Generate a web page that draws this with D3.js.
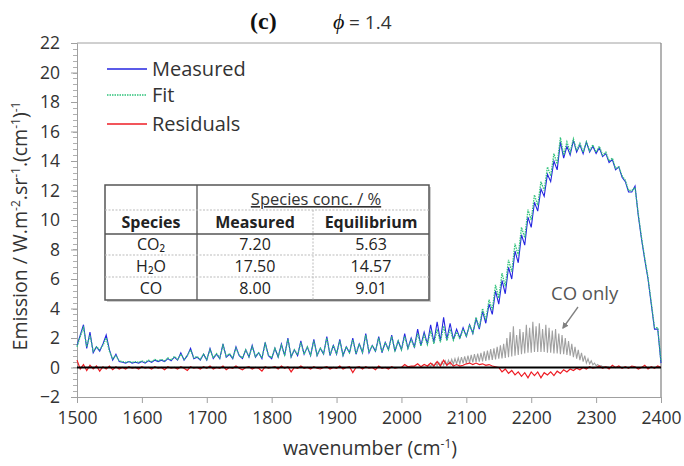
<!DOCTYPE html>
<html>
<head>
<meta charset="utf-8">
<script src="https://cdn.jsdelivr.net/npm/d3@7/dist/d3.min.js"></script>
<style>
  body { margin: 0; background: #fff; }
  svg { display: block; font-family: "Open Sans", sans-serif; }
</style>
</head>
<body>
<div id="chart"></div>
<script>
var startWn = 1500, stepWn = 5;

var measured = [
  1.5, 2.2, 2.9, 1.3, 2.4, 1.0, 1.4, 1.1, 1.6, 2.2,
  1.2, 0.5, 0.9, 0.4, 0.35, 0.3, 0.4, 0.3, 0.35, 0.3,
  0.4, 0.3, 0.45, 0.35, 0.5, 0.4, 0.5, 0.4, 0.6, 0.45,
  0.7, 0.5, 1.0, 0.5, 0.8, 1.3, 0.6, 0.7, 0.5, 0.9,
  0.5, 1.3, 0.6, 0.9, 0.6, 1.6, 0.7, 0.9, 0.6, 1.4,
  0.8, 0.6, 1.2, 0.7, 1.5, 0.7, 1.0, 0.6, 1.7, 0.8,
  0.6, 1.3, 0.7, 1.6, 0.8, 2.0, 0.7, 1.2, 0.8, 1.8,
  0.9, 1.4, 0.8, 1.9, 0.8, 1.3, 0.9, 2.1, 0.8, 1.5,
  0.9, 1.9, 0.8, 1.4, 1.0, 2.0, 0.9, 1.6, 1.0, 2.3,
  1.0, 1.5, 1.1, 2.1, 1.0, 1.7, 1.2, 2.2, 1.1, 1.8,
  1.2, 2.3, 1.3, 2.0, 1.4, 2.6, 1.5, 2.4, 1.6, 2.9,
  1.7, 3.1, 1.8, 3.4, 1.9, 3.0, 1.9, 2.6, 2.0, 2.7,
  2.1, 2.9, 2.3, 3.3, 2.6, 3.8, 3.0, 4.3, 3.6, 5.2,
  4.3, 5.9, 5.0, 6.8, 6.0, 7.9, 7.1, 9.0, 8.3, 10.2,
  9.5, 11.2, 10.6, 12.1, 11.6, 13.1, 12.6, 14.0, 13.4, 15.3,
  14.2, 15.0, 14.4, 15.4, 14.6, 15.1, 14.5, 15.3, 14.6, 15.0,
  14.5, 14.9, 14.3, 14.5, 13.9, 14.1, 13.4, 13.6, 12.9, 12.6,
  11.9, 11.9, 12.3, 10.3, 8.7, 7.3, 6.0, 4.3, 2.6, 2.6,
  0.3
];

var fit = [
  1.4, 2.1, 2.7, 1.4, 2.2, 1.1, 1.4, 1.2, 1.5, 2.0,
  1.1, 0.6, 0.8, 0.45, 0.4, 0.35, 0.4, 0.35, 0.4, 0.35,
  0.45, 0.35, 0.5, 0.4, 0.55, 0.45, 0.55, 0.45, 0.65, 0.5,
  0.75, 0.55, 0.9, 0.55, 0.8, 1.2, 0.65, 0.75, 0.55, 0.9,
  0.55, 1.2, 0.65, 0.95, 0.65, 1.5, 0.75, 0.95, 0.65, 1.3,
  0.85, 0.65, 1.2, 0.75, 1.4, 0.75, 1.0, 0.65, 1.6, 0.85,
  0.65, 1.3, 0.75, 1.5, 0.85, 1.9, 0.75, 1.2, 0.85, 1.7,
  0.9, 1.4, 0.85, 1.8, 0.85, 1.3, 0.95, 2.0, 0.85, 1.5,
  0.95, 1.8, 0.85, 1.4, 1.0, 1.9, 0.95, 1.6, 1.05, 2.2,
  1.05, 1.5, 1.1, 2.0, 1.05, 1.7, 1.2, 2.1, 1.15, 1.8,
  1.2, 2.1, 1.3, 1.9, 1.35, 2.3, 1.45, 2.2, 1.55, 2.5,
  1.6, 2.6, 1.7, 2.8, 1.8, 2.6, 1.85, 2.4, 1.95, 2.6,
  2.1, 2.9, 2.35, 3.4, 2.7, 4.0, 3.2, 4.6, 3.9, 5.6,
  4.7, 6.4, 5.5, 7.3, 6.5, 8.4, 7.6, 9.5, 8.8, 10.7,
  10.0, 11.7, 11.0, 12.6, 12.0, 13.6, 13.0, 14.5, 13.8, 15.6,
  14.4, 15.3, 14.6, 15.5, 14.7, 15.2, 14.6, 15.3, 14.7, 15.1,
  14.6, 15.0, 14.4, 14.6, 14.0, 14.2, 13.5, 13.6, 13.0, 12.7,
  12.0, 12.0, 12.2, 10.4, 8.8, 7.4, 6.1, 4.4, 2.7, 2.7,
  0.4
];

var residuals = [
  0.5, -0.1, 0.2, -0.2, 0.15, -0.1, 0.1, -0.25, 0.05, -0.1,
  0.1, -0.15, 0.05, -0.1, 0.0, -0.1, 0.05, -0.05, 0.0, -0.1,
  0.05, -0.05, 0.0, -0.1, 0.05, -0.05, 0.0, -0.15, 0.05, -0.05,
  0.0, -0.1, 0.05, -0.05, -0.2, 0.05, -0.05, 0.0, -0.1, 0.05,
  -0.05, 0.1, -0.1, 0.0, -0.05, 0.1, -0.15, 0.0, -0.05, 0.1,
  -0.05, -0.15, 0.0, 0.05, -0.1, 0.0, -0.05, -0.25, 0.05, -0.05,
  0.0, 0.05, -0.1, 0.1, -0.05, 0.05, -0.3, 0.0, -0.05, 0.1,
  -0.05, 0.0, -0.1, 0.05, -0.05, -0.1, 0.0, 0.05, -0.1, 0.0,
  -0.05, 0.1, -0.1, 0.0, 0.05, -0.35, 0.0, 0.05, -0.1, 0.05,
  -0.05, 0.0, -0.15, 0.1, -0.05, 0.0, -0.1, 0.05, -0.05, 0.0,
  0.0, 0.2, 0.05, 0.1, 0.1, 0.25, 0.05, 0.2, 0.1, 0.3,
  0.1, 0.4, 0.1, 0.5, 0.15, 0.35, 0.1, 0.2, 0.1, 0.15,
  0.25, 0.3, 0.2, 0.3, 0.2, 0.25, 0.15, 0.2, 0.1, 0.05,
  0.0, -0.3, -0.1, -0.4, -0.2, -0.5, -0.3, -0.6, -0.35, -0.7,
  -0.3, -0.55, -0.3, -0.7, -0.35, -0.5, -0.3, -0.55, -0.25, -0.4,
  -0.15, -0.3, -0.1, -0.2, -0.05, -0.15, 0.0, -0.1, 0.05, -0.05,
  0.0, 0.1, -0.05, 0.05, -0.1, 0.15, 0.0, 0.1, -0.05, 0.05,
  -0.05, 0.1, 0.05, -0.1, 0.0, 0.15, -0.1, 0.05, -0.05, 0.1,
  0.0
];

// CO only, every 2.5 cm-1 from 2040 cm-1
var coStart = 2040, coStep = 2.5;
var coOnly = [
  0.05, 0.2, 0.08, 0.25, 0.1, 0.3, 0.12, 0.35, 0.15, 0.4,
  0.15, 0.45, 0.18, 0.5, 0.2, 0.55, 0.22, 0.6, 0.25, 0.65,
  0.25, 0.7, 0.28, 0.75, 0.3, 0.8, 0.32, 0.85, 0.35, 0.9,
  0.38, 0.95, 0.4, 1.0, 0.42, 1.1, 0.45, 1.15, 0.5, 1.25,
  0.52, 1.3, 0.55, 1.4, 0.6, 1.5, 0.62, 1.6, 0.65, 2.0,
  0.7, 2.4, 0.75, 2.8, 0.8, 2.2, 0.85, 2.6, 0.9, 2.4,
  0.95, 2.9, 1.0, 2.7, 1.0, 3.1, 1.05, 2.8, 1.05, 3.0,
  1.05, 2.6, 1.05, 2.9, 1.0, 2.7, 1.0, 2.5, 0.95, 2.6,
  0.95, 2.3, 0.9, 2.2, 0.9, 2.0, 0.85, 1.8, 0.8, 1.6,
  0.7, 1.4, 0.6, 1.2, 0.5, 1.0, 0.4, 0.8, 0.3, 0.6,
  0.25, 0.45, 0.18, 0.3, 0.12, 0.2, 0.08, 0.12, 0.05, 0.07,
  0.03, 0.04, 0.02
];

var xTicks = [1500, 1600, 1700, 1800, 1900, 2000, 2100, 2200, 2300, 2400];
var yTicks = [-2, 0, 2, 4, 6, 8, 10, 12, 14, 16, 18, 20, 22];

var seriesNames = ["Measured", "Fit", "Residuals"];
var seriesColors = ["#2525e0", "#2fc27a", "#ee1c24"];

var tableSpecies = ["CO\u2082", "H\u2082O", "CO"];
var tableMeasured = ["7.20", "17.50", "8.00"];
var tableEquilibrium = ["5.63", "14.57", "9.01"];

var W = 684, H = 466;
var pLeft = 77, pRight = 661, pTop = 43, pBottom = 397;

var svg = d3.select("#chart").append("svg")
  .attr("width", W).attr("height", H);

var x = d3.scaleLinear().domain([1500, 2400]).range([pLeft, pRight]);
var y = d3.scaleLinear().domain([-2, 22]).range([pBottom, pTop]);

// frame top and right
svg.append("line").attr("x1", pLeft).attr("x2", pRight).attr("y1", pTop).attr("y2", pTop)
  .attr("stroke", "#a0a0a0");
svg.append("line").attr("x1", pRight).attr("x2", pRight).attr("y1", pTop).attr("y2", pBottom)
  .attr("stroke", "#808080").attr("stroke-width", 1.2);

// y minor ticks
var minor = d3.range(-2, 22.001, 0.4);
svg.append("g").selectAll("line").data(minor).enter().append("line")
  .attr("x1", pLeft - 4).attr("x2", pLeft)
  .attr("y1", function (d) { return Math.round(y(d)) + 0.5; })
  .attr("y2", function (d) { return Math.round(y(d)) + 0.5; })
  .attr("stroke", "#b0b0b0");

var yAxis = svg.append("g").attr("transform", "translate(" + pLeft + ",0)")
  .call(d3.axisLeft(y).tickValues(yTicks).tickSize(6).tickPadding(11));
var xAxis = svg.append("g").attr("transform", "translate(0," + pBottom + ")")
  .call(d3.axisBottom(x).tickValues(xTicks).tickSize(6).tickPadding(9).tickFormat(d3.format("d")));

[yAxis, xAxis].forEach(function (g) {
  g.select(".domain").attr("stroke", "#a0a0a0");
  g.selectAll(".tick line").attr("stroke", "#a0a0a0");
  g.selectAll("text").attr("font-family", "Open Sans").attr("font-size", 17.5).attr("fill", "#333");
});

// lines
function lineFor(start, step) {
  return d3.line()
    .x(function (d, i) { return x(start + i * step); })
    .y(function (d) { return y(d); });
}

svg.append("path").datum(coOnly).attr("d", lineFor(coStart, coStep))
  .attr("fill", "none").attr("stroke", "#a0a0a0").attr("stroke-width", 1.1);

svg.append("path").datum(residuals).attr("d", lineFor(startWn, stepWn))
  .attr("fill", "none").attr("stroke", seriesColors[2]).attr("stroke-width", 1.2);

svg.append("line").attr("x1", pLeft).attr("x2", pRight).attr("y1", y(0)).attr("y2", y(0))
  .attr("stroke", "#000").attr("stroke-width", 2);

svg.append("path").datum(measured).attr("d", lineFor(startWn, stepWn))
  .attr("fill", "none").attr("stroke", seriesColors[0]).attr("stroke-width", 1.1);

svg.append("path").datum(fit).attr("d", lineFor(startWn, stepWn))
  .attr("fill", "none").attr("stroke", seriesColors[1]).attr("stroke-width", 1.3)
  .attr("stroke-dasharray", "1.5,1");

// CO only label and arrow
svg.append("defs").append("marker")
  .attr("id", "arr").attr("viewBox", "0 0 10 10").attr("refX", 8).attr("refY", 5)
  .attr("markerWidth", 5).attr("markerHeight", 5).attr("orient", "auto")
  .append("path").attr("d", "M0,0L10,5L0,10z").attr("fill", "#808080");
svg.append("text").attr("x", 551).attr("y", 300).attr("font-size", 18.5).attr("fill", "#555")
  .text("CO only");
svg.append("line").attr("x1", 578).attr("y1", 307).attr("x2", 563).attr("y2", 328)
  .attr("stroke", "#808080").attr("stroke-width", 1.3).attr("marker-end", "url(#arr)");

// legend
var legY = [69, 95, 124];
seriesNames.forEach(function (name, i) {
  var ln = svg.append("line").attr("x1", 107).attr("x2", 147).attr("y1", legY[i]).attr("y2", legY[i])
    .attr("stroke", seriesColors[i]).attr("stroke-width", 1.3);
  if (i == 1) ln.attr("stroke-dasharray", "1.5,1");
  svg.append("text").attr("x", 152).attr("y", legY[i] + 7).attr("font-size", 20).attr("fill", "#333")
    .text(name);
});

// table
var tb = svg.append("g");
tb.append("rect").attr("x", 107).attr("y", 187).attr("width", 324).attr("height", 115).attr("fill", "#ccc");
tb.append("rect").attr("x", 105).attr("y", 185).attr("width", 324).attr("height", 115)
  .attr("fill", "#fff").attr("stroke", "#555").attr("stroke-width", 1.5);
var colX = [105, 197, 313, 429];
var rowY = [185, 210, 234, 255, 277, 300];
tb.append("line").attr("x1", 197).attr("x2", 197).attr("y1", 185).attr("y2", 300)
  .attr("stroke", "#555").attr("stroke-width", 1.3);
tb.append("line").attr("x1", 313).attr("x2", 313).attr("y1", 210).attr("y2", 300)
  .attr("stroke", "#bbb").attr("stroke-dasharray", "2,1.5");
tb.append("line").attr("x1", 105).attr("x2", 429).attr("y1", 234).attr("y2", 234)
  .attr("stroke", "#555").attr("stroke-width", 1.3);
[210, 255, 277].forEach(function (yy) {
  tb.append("line").attr("x1", 105).attr("x2", 429).attr("y1", yy).attr("y2", yy)
    .attr("stroke", "#bbb").attr("stroke-dasharray", "2,1.5");
});
tb.append("text").attr("x", 316).attr("y", 205).attr("text-anchor", "middle")
  .attr("font-size", 16.5).attr("fill", "#333").attr("text-decoration", "underline")
  .text("Species conc. / %");
var heads = ["Species", "Measured", "Equilibrium"];
heads.forEach(function (h, i) {
  tb.append("text").attr("x", (colX[i] + colX[i + 1]) / 2).attr("y", 228).attr("text-anchor", "middle")
    .attr("font-size", 16).attr("font-weight", "bold").attr("fill", "#222").text(h);
});
tableSpecies.forEach(function (s, r) {
  var cy = (rowY[r + 2] + rowY[r + 3]) / 2 + 5.5;
  [s, tableMeasured[r], tableEquilibrium[r]].forEach(function (v, c) {
    tb.append("text").attr("x", (colX[c] + colX[c + 1]) / 2).attr("y", cy).attr("text-anchor", "middle")
      .attr("font-size", 16).attr("fill", "#222").text(v);
  });
});

// axis titles
var xt = svg.append("text").attr("x", 370).attr("y", 455).attr("text-anchor", "middle")
  .attr("font-size", 19.5).attr("fill", "#333");
xt.append("tspan").text("wavenumber (cm");
xt.append("tspan").attr("dy", -7).attr("font-size", 12).text("-1");
xt.append("tspan").attr("dy", 7).text(")");

var yt = svg.append("text").attr("transform", "translate(27,226) rotate(-90)")
  .attr("text-anchor", "middle").attr("font-size", 19.5).attr("fill", "#333");
yt.append("tspan").text("Emission / W.m");
yt.append("tspan").attr("dy", -7).attr("font-size", 12).text("-2");
yt.append("tspan").attr("dy", 7).text(".sr");
yt.append("tspan").attr("dy", -7).attr("font-size", 12).text("-1");
yt.append("tspan").attr("dy", 7).text(".(cm");
yt.append("tspan").attr("dy", -7).attr("font-size", 12).text("-1");
yt.append("tspan").attr("dy", 7).text(")");
yt.append("tspan").attr("dy", -7).attr("font-size", 12).text("-1");

// title
svg.append("text").attr("x", 250).attr("y", 29).attr("font-family", "Liberation Serif")
  .attr("font-weight", "bold").attr("font-size", 24).attr("fill", "#111").text("(c)");
svg.append("text").attr("x", 333).attr("y", 29).attr("font-family", "Liberation Serif")
  .attr("font-style", "italic").attr("font-size", 22).attr("fill", "#111").text("\u03d5");
svg.append("text").attr("x", 349).attr("y", 29).attr("font-size", 19).attr("fill", "#333").text("= 1.4");
</script>
</body>
</html>
